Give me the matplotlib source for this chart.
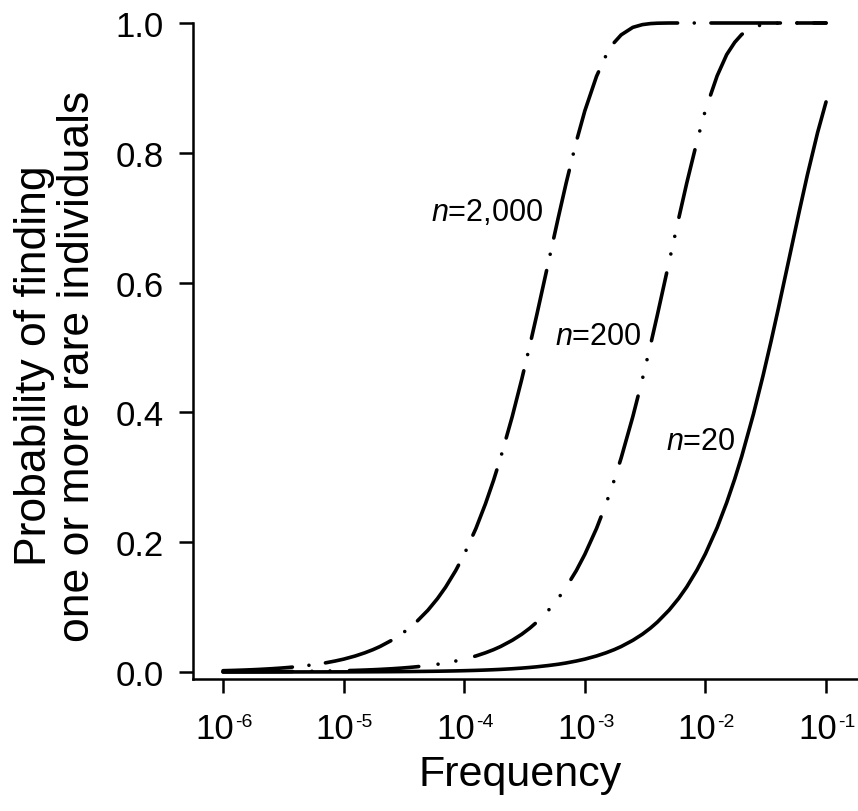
import numpy as np
import matplotlib
matplotlib.use("Agg")
import matplotlib.pyplot as plt

plt.rcParams['font.family'] = ['Liberation Sans', 'DejaVu Sans']
plt.rcParams['mathtext.fontset'] = 'custom'
plt.rcParams['mathtext.rm'] = 'Liberation Sans'
plt.rcParams['mathtext.it'] = 'Liberation Sans:italic'
plt.rcParams['lines.scale_dashes'] = False

# frequency of the rare type (x axis)
freq = [1e-6, 1.25e-6, 1.5e-6, 1.75e-6, 2e-6, 2.5e-6, 3e-6, 3.5e-6, 4e-6, 5e-6, 6e-6, 7e-6, 8.5e-6,
        1e-5, 1.25e-5, 1.5e-5, 1.75e-5, 2e-5, 2.5e-5, 3e-5, 3.5e-5, 4e-5, 5e-5, 6e-5, 7e-5, 8.5e-5,
        1e-4, 1.25e-4, 1.5e-4, 1.75e-4, 2e-4, 2.5e-4, 3e-4, 3.5e-4, 4e-4, 5e-4, 6e-4, 7e-4, 8.5e-4,
        1e-3, 1.25e-3, 1.5e-3, 1.75e-3, 2e-3, 2.5e-3, 3e-3, 3.5e-3, 4e-3, 5e-3, 6e-3, 7e-3, 8.5e-3,
        1e-2, 1.25e-2, 1.5e-2, 1.75e-2, 2e-2, 2.5e-2, 3e-2, 3.5e-2, 4e-2, 5e-2, 6e-2, 7e-2, 8.5e-2,
        1e-1]

# probability of finding one or more rare individuals, one list per sample size
p_n2000 = [0.002, 0.0025, 0.003, 0.0035, 0.004, 0.005, 0.006, 0.007, 0.008, 0.010, 0.0119, 0.0139, 0.0169,
           0.0198, 0.0247, 0.0296, 0.0344, 0.0392, 0.0488, 0.0582, 0.0676, 0.0769, 0.0952, 0.1131, 0.1306, 0.1563,
           0.1813, 0.2212, 0.2592, 0.2953, 0.3297, 0.3935, 0.4512, 0.5034, 0.5507, 0.6321, 0.6988, 0.7534, 0.8173,
           0.8647, 0.9179, 0.9502, 0.9698, 0.9817, 0.9933, 0.9975, 0.9991, 0.9997, 1.0, 1.0, 1.0, 1.0,
           1.0, 1.0, 1.0, 1.0, 1.0, 1.0, 1.0, 1.0, 1.0, 1.0, 1.0, 1.0, 1.0,
           1.0]
p_n200 = [0.0002, 0.00025, 0.0003, 0.00035, 0.0004, 0.0005, 0.0006, 0.0007, 0.0008, 0.001, 0.0012, 0.0014, 0.0017,
          0.002, 0.0025, 0.003, 0.0035, 0.004, 0.005, 0.006, 0.007, 0.008, 0.010, 0.0119, 0.0139, 0.0169,
          0.0198, 0.0247, 0.0296, 0.0344, 0.0392, 0.0488, 0.0582, 0.0676, 0.0769, 0.0952, 0.1131, 0.1306, 0.1563,
          0.1813, 0.2212, 0.2592, 0.2953, 0.3297, 0.3935, 0.4512, 0.5034, 0.5507, 0.6321, 0.6988, 0.7534, 0.8173,
          0.8660, 0.9185, 0.9513, 0.9703, 0.9824, 0.9936, 0.9977, 0.9992, 0.9997, 1.0, 1.0, 1.0, 1.0,
          1.0]
p_n20 = [0.00002, 0.000025, 0.00003, 0.000035, 0.00004, 0.00005, 0.00006, 0.00007, 0.00008, 0.0001, 0.00012, 0.00014, 0.00017,
         0.0002, 0.00025, 0.0003, 0.00035, 0.0004, 0.0005, 0.0006, 0.0007, 0.0008, 0.001, 0.0012, 0.0014, 0.0017,
         0.002, 0.0025, 0.003, 0.0035, 0.004, 0.005, 0.006, 0.007, 0.008, 0.010, 0.0119, 0.0139, 0.0169,
         0.0198, 0.0247, 0.0296, 0.0344, 0.0392, 0.0488, 0.0582, 0.0676, 0.0770, 0.0954, 0.1134, 0.1311, 0.1570,
         0.1821, 0.2224, 0.2609, 0.2975, 0.3324, 0.3973, 0.4562, 0.5096, 0.5580, 0.6415, 0.7099, 0.7658, 0.8308,
         0.8784]

xticks = [1e-6, 1e-5, 1e-4, 1e-3, 1e-2, 1e-1]
xtick_exp = ['-6', '-5', '-4', '-3', '-2', '-1']
yticks = [0.0, 0.2, 0.4, 0.6, 0.8, 1.0]

fig = plt.figure(figsize=(8.58, 8.12), dpi=100)
ax = fig.add_axes([193/858, 132/812, 665/858, 656/812])

lw = 2.6
ax.plot(freq, p_n20, color='black', lw=lw, solid_capstyle='round', clip_on=False)
l200, = ax.plot(freq, p_n200, color='black', lw=lw, dash_capstyle='round', clip_on=False)
l200.set_dashes((50, 14, 0.01, 13, 0.01, 14))
l2000, = ax.plot(freq, p_n2000, color='black', lw=lw, dash_capstyle='round', clip_on=False)
l2000.set_dashes((50, 12, 0.01, 12))

ax.set_xscale('log')
ax.set_xlim(10**-6.249, 10**-0.735)
ax.set_ylim(-0.0108, 1.0)
ax.set_xticks(xticks)
ax.set_xticklabels([])
ax.minorticks_off()
ax.set_yticks(yticks)
ax.set_yticklabels(['%.1f' % v for v in yticks])

for s in ['top', 'right']:
    ax.spines[s].set_visible(False)
for s in ['left', 'bottom']:
    ax.spines[s].set_linewidth(1.8)
ax.tick_params(axis='both', direction='out', length=10, width=1.8)
ax.tick_params(axis='y', pad=11, labelsize=25)

# x tick labels: "10" with a small raised exponent, like the original
for xt, e in zip(xticks, xtick_exp):
    ax.annotate('10', xy=(xt, 0), xycoords=ax.get_xaxis_transform(),
                xytext=(-6.1, -42.5), textcoords='offset points',
                ha='center', va='baseline', fontsize=25, annotation_clip=False)
    ax.annotate(e, xy=(xt, 0), xycoords=ax.get_xaxis_transform(),
                xytext=(8.6, -33.8), textcoords='offset points',
                ha='left', va='baseline', fontsize=14, annotation_clip=False)

ax.text(1.545e-4, 0.709, r'$\mathit{n}$=2,000', fontsize=22, ha='center', va='center')
ax.text(1.29e-3, 0.518, r'$\mathit{n}$=200', fontsize=22, ha='center', va='center')
ax.text(9.2e-3, 0.356, r'$\mathit{n}$=20', fontsize=22, ha='center', va='center')

fig.text(56/858, 1 - 366/812, 'Probability of finding\none or more rare individuals',
         rotation=90, ha='center', va='center', fontsize=32, linespacing=1.05)
fig.text(520/858, 1 - 775/812, 'Frequency', ha='center', va='center', fontsize=31)

fig.savefig('out.png', dpi=100)
